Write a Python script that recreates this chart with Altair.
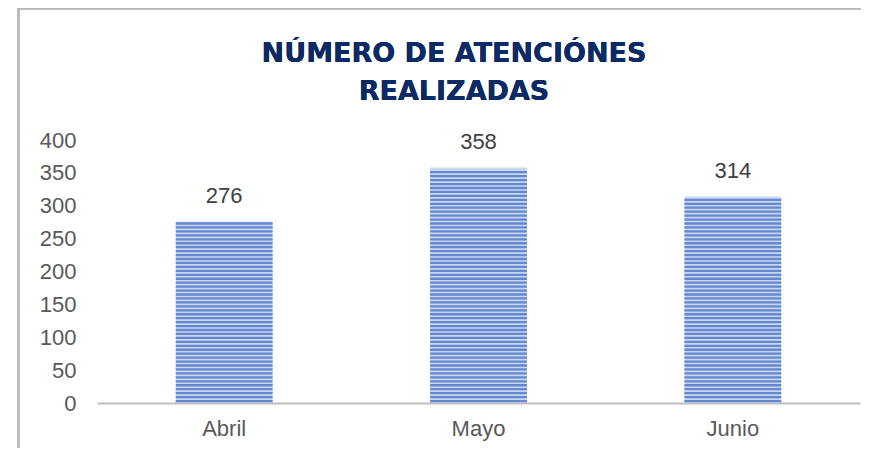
import altair as alt
import numpy as np
import pandas as pd

months = ["Abril", "Mayo", "Junio"]
values = [276, 358, 314]
title_line1 = "NÚMERO DE ATENCIÓNES"
title_line2 = "REALIZADAS"
y_ticks = [0, 50, 100, 150, 200, 250, 300, 350, 400]

df = pd.DataFrame({"mes": months, "v": values})

# decorative horizontal stripe pattern inside each bar
rows = []
for m, v in zip(months, values):
    for lv in np.arange(3, v - 1, 6):
        rows.append({"mes": m, "v": float(lv)})
stripe_df = pd.DataFrame(rows)

FONT = "Liberation Sans"
TITLE_FONT = "DejaVu Sans"

x_enc = alt.X(
    "mes:N",
    sort=months,
    title=None,
    scale=alt.Scale(paddingInner=0.62, paddingOuter=0.31),
    axis=alt.Axis(
        domainColor="#bfbfbf",
        domainWidth=2,
        ticks=False,
        labelFontSize=22,
        labelColor="#595959",
        labelFont=FONT,
        labelPadding=15,
        labelAngle=0,
    ),
)
y_enc = alt.Y(
    "v:Q",
    title=None,
    scale=alt.Scale(domain=[0, 400], nice=False),
    axis=alt.Axis(
        values=y_ticks,
        grid=False,
        domain=False,
        ticks=False,
        labelFontSize=22,
        labelColor="#595959",
        labelFont=FONT,
        labelPadding=21,
    ),
)

bars = alt.Chart(df).mark_bar(color="#c9d6f0").encode(x=x_enc, y=y_enc)
stripes = alt.Chart(stripe_df).mark_tick(
    orient="horizontal", size=97, thickness=2.3, color="#3a66c0"
).encode(x=x_enc, y=y_enc)
labels = alt.Chart(df).mark_text(
    baseline="alphabetic", dy=-19, fontSize=22, color="#404040", font=FONT
).encode(x=x_enc, y=y_enc, text=alt.Text("v:Q"))

title1 = alt.Chart(df).mark_text(
    baseline="alphabetic", align="center", fontSize=27, fontWeight="bold",
    color="#0b2a66", font=TITLE_FONT,
).encode(x=alt.value(357), y=alt.value(-78), text=alt.value(title_line1))
title2 = alt.Chart(df).mark_text(
    baseline="alphabetic", align="center", fontSize=27, fontWeight="bold",
    color="#0b2a66", font=TITLE_FONT,
).encode(x=alt.value(357), y=alt.value(-40), text=alt.value(title_line2))

border_left = alt.Chart(df).mark_rule(color="#b8b8b8", strokeWidth=2).encode(
    x=alt.value(-78.5), y=alt.value(-131.5), y2=alt.value(400)
)
border_top = alt.Chart(df).mark_rule(color="#b8b8b8", strokeWidth=2).encode(
    x=alt.value(-79.5), x2=alt.value(900), y=alt.value(-131.5)
)

chart = (
    alt.layer(bars, stripes, labels, title1, title2, border_left, border_top)
    .properties(
        width=763,
        height=263,
        autosize=alt.AutoSizeParams(type="none"),
        padding={"left": 89, "top": 132, "right": 1, "bottom": 45},
    )
    .configure_view(stroke=None)
)

chart.save("out.html", embed_options={"renderer": "svg", "actions": False})
